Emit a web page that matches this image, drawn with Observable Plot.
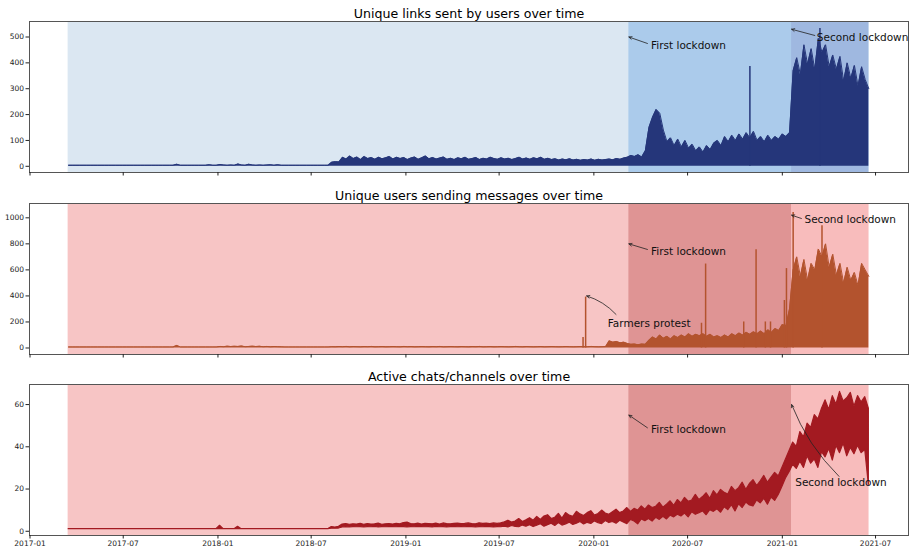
<!DOCTYPE html>
<html><head><meta charset="utf-8">
<script src="https://cdn.jsdelivr.net/npm/d3@7"></script>
<script src="https://cdn.jsdelivr.net/npm/@observablehq/plot@0.6"></script>
<style>body{margin:0;background:#fff} #chart svg{display:block}</style>
</head><body><div id="chart"></div>
<script>
// ---------- data ----------
const weekStart = "2017-03-17";   // first weekly sample, one value every 7 days
const dataStart = "2017-03-16";
const dataEnd = "2021-06-18";
const firstLockdown = "2020-03-09";
const secondLockdown = "2021-01-19";
const xTickLabels = ["2017-01","2017-07","2018-01","2018-07","2019-01","2019-07","2020-01","2020-07","2021-01","2021-07"];

const titles = ["Unique links sent by users over time", "Unique users sending messages over time", "Active chats/channels over time"];

const linksWeekly = [
 4,4,4,4,4,4,4,4,4,4,
 4,4,4,4,4,4,4,4,4,4,
 4,4,4,4,4,4,4,4,4,4,
 8,4,4,4,4,4,4,4,4,6,
 4,4,7,5,4,5,4,9,5,4,
 8,5,4,5,4,5,6,4,6,4,
 4,4,4,4,4,4,4,4,4,4,
 4,4,4,16,18,17,35,28,40,30,
 36,26,38,30,34,27,35,29,33,38,
 28,35,30,34,26,32,36,27,33,40,
 29,34,28,32,36,27,31,26,33,29,
 35,27,30,34,26,31,28,35,30,27,
 33,28,31,26,30,35,28,32,27,33,
 29,35,27,31,26,29,24,28,25,29,
 24,27,23,26,24,28,23,27,24,26,
 28,25,30,27,32,35,42,38,45,36,
 60,150,190,220,205,140,95,110,80,105,
 75,100,70,85,60,75,55,80,65,90,
 100,80,115,95,120,100,125,105,130,110,
 135,100,115,95,120,100,115,105,125,115,
 130,370,420,355,470,395,455,375,495,440,
 470,385,430,375,425,330,400,340,390,310,
 385,335,300];
const linksSpikeDates = ["2020-10-30", "2021-03-15"];
const linksSpikeValues = [386, 533];

const usersWeekly = [
 8,8,8,8,8,8,8,8,8,8,
 8,8,8,8,8,8,8,8,8,8,
 8,8,8,8,8,8,8,8,8,8,
 20,8,8,8,8,8,8,8,8,8,
 8,8,12,10,14,11,13,12,15,10,
 12,14,11,13,10,12,9,11,10,9,
 8,8,8,8,8,8,8,8,8,8,
 8,8,8,10,9,11,10,12,9,11,
 10,9,11,10,12,9,10,11,9,10,
 11,10,9,12,10,11,9,10,11,10,
 9,11,10,12,9,10,11,10,9,11,
 10,9,11,10,12,9,10,11,9,10,
 11,10,9,10,12,10,9,11,10,9,
 10,11,9,10,11,10,9,10,11,10,
 9,10,11,10,10,12,10,9,10,11,
 55,45,50,40,45,35,28,30,25,30,
 28,60,85,70,100,75,90,70,95,80,
 100,85,110,90,105,95,110,90,105,85,
 95,80,100,85,110,95,115,100,120,105,
 125,110,130,110,140,120,150,135,180,170,
 300,600,700,550,680,520,650,600,760,700,
 800,620,720,560,650,500,620,520,580,480,
 650,600,550];
const usersSpikeDates = ["2019-12-11","2019-12-16","2020-07-28","2020-08-05","2020-10-18","2020-11-11","2020-11-29","2020-12-09","2021-01-05","2021-01-09","2021-01-22","2021-03-19"];
const usersSpikeValues = [80, 391, 190, 645, 200, 755, 200, 200, 365, 610, 1040, 940];

const chatsWeeklyHigh = [
 1,1,1,1,1,1,1,1,1,1,
 1,1,1,1,1,1,1,1,1,1,
 1,1,1,1,1,1,1,1,1,1,
 1,1,1,1,1,1,1,1,1,1,
 1,1,2.6,1,1,1,1,2.1,1,1,
 1,1,1,1,1,1,1,1,1,1,
 1,1,1,1,1,1,1,1,1,1,
 1,1,1,2,1.8,2.1,3.2,3.4,3.1,3.3,
 3.2,3.5,3.1,3.4,3.2,3.3,3.6,3.1,3.3,3.4,
 3.2,3.5,3.3,3.9,4.1,3.4,3.3,3.6,3.2,3.5,
 3.4,3.3,3.6,3.2,3.7,3.4,3.3,3.5,3.6,3.4,
 3.5,3.7,3.4,3.3,3.8,3.5,3.6,3.4,3.7,3.5,
 3.8,4.2,5.0,4.1,4.6,5.8,4.4,5.2,6.2,5.0,
 6.8,5.4,7.0,7.6,5.8,6.4,8.2,6.0,8.6,7.4,
 6.8,9.2,8.0,7.2,8.6,9.5,7.4,8.2,9.8,8.4,
 7.8,9.0,10.2,8.6,9.4,11.0,9.2,10.6,9.8,11.8,
 10.2,12.2,11.0,11.6,13.4,11.2,12.6,14.2,12.0,14.8,
 13.2,15.8,14.0,14.6,17.2,14.8,16.2,18.0,15.4,19.0,
 17.0,19.6,18.2,17.4,21.0,19.0,20.4,23.0,19.6,22.4,
 24.2,21.4,23.6,26.2,23.0,25.4,27.6,26.0,30.0,34.0,
 38.0,42.0,40.0,47.0,44.5,51.0,49.0,55.0,53.0,58.0,
 62.0,57.5,64.0,60.0,66.0,61.5,63.0,65.5,59.0,64.0,
 61.0,63.5,58.0];
const chatsWeeklyLow = [
 1,1,1,1,1,1,1,1,1,1,
 1,1,1,1,1,1,1,1,1,1,
 1,1,1,1,1,1,1,1,1,1,
 1,1,1,1,1,1,1,1,1,1,
 1,1,1,1,1,1,1,1,1,1,
 1,1,1,1,1,1,1,1,1,1,
 1,1,1,1,1,1,1,1,1,1,
 1,1,1,1.2,1.2,1.3,1.8,2.0,1.8,2.0,
 1.9,2.0,1.8,2.0,1.9,2.1,1.8,2.0,1.9,2.0,
 2.0,1.9,2.1,2.0,1.8,2.0,1.9,2.1,2.0,1.9,
 2.0,1.8,2.1,1.9,2.0,1.8,2.0,2.1,1.9,2.0,
 1.9,2.1,2.0,1.8,2.0,1.9,2.1,2.0,1.8,2.0,
 1.9,2.2,1.8,2.5,2.1,1.9,2.7,2.2,2.9,2.0,
 2.6,3.3,2.2,2.9,3.6,2.5,3.9,2.7,3.2,4.1,
 3.0,3.6,4.4,3.2,4.0,3.5,4.7,3.8,3.4,4.9,
 3.9,4.4,3.6,5.0,4.2,3.4,5.4,4.6,3.3,5.6,
 4.8,5.8,4.6,6.4,5.4,6.9,5.6,7.4,6.6,7.8,
 7.0,8.4,6.6,9.0,7.8,8.6,9.4,7.6,10.0,9.2,
 10.4,8.8,11.4,10.0,12.4,9.4,12.8,11.0,13.6,12.2,
 11.8,14.6,13.2,15.4,12.6,16.0,14.4,17.2,21.0,25.0,
 28.0,31.5,29.5,33.0,30.0,35.5,32.0,34.0,30.0,37.5,
 35.0,39.0,33.5,40.5,37.0,41.5,35.5,39.5,36.5,40.5,
 37.0,38.5,22.0];

// annotations: [label, tipDate, tipValue, tailDate, tailValue, textDate, textValue, bend]
const linksNotes = [
 ["First lockdown", "2020-03-09", 500, "2020-04-14", 475, "2020-04-21", 465, 0],
 ["Second lockdown", "2021-01-19", 530, "2021-03-05", 506, "2021-03-09", 498, 0]];
const usersNotes = [
 ["First lockdown", "2020-03-09", 800, "2020-04-14", 757, "2020-04-21", 741, 0],
 ["Second lockdown", "2021-01-19", 1020, "2021-02-07", 995, "2021-02-13", 987, 0],
 ["Farmers protest", "2019-12-18", 400, "2020-02-13", 258, "2020-01-28", 190, -15]];
const chatsNotes = [
 ["First lockdown", "2020-03-09", 55, "2020-04-14", 49, "2020-04-21", 48, 0],
 ["Second lockdown", "2021-01-19", 60, "2021-04-21", 26, "2021-01-26", 23, 12]];

// ---------- build ----------
const D = s => new Date(s);
const weekDates = linksWeekly.map((_, i) => d3.utcDay.offset(D(weekStart), 7 * i));
const xTicks = xTickLabels.map(s => D(s + "-01"));
const xDomain = [D("2016-12-31"), D("2021-09-03")];
const FONT = "DejaVu Sans";

function notesMarks(notes) {
  const rows = notes.map(n => ({label: n[0], x2: D(n[1]), y2: n[2], x1: D(n[3]), y1: n[4], tx: D(n[5]), ty: n[6], bend: n[7]}));
  const out = [];
  for (const r of rows) {
    out.push(Plot.arrow([r], {x1: "x1", y1: "y1", x2: "x2", y2: "y2", bend: r.bend, stroke: "#222", strokeWidth: 0.8, headLength: 6, headAngle: 50}));
  }
  out.push(Plot.text(rows, {x: "tx", y: "ty", text: "label", textAnchor: "start", lineAnchor: "middle", fontSize: 10.5, fill: "#111"}));
  return out;
}

function spanMarks(spans, yDomain) {
  return spans.map(s => Plot.rect([s], {x1: d => D(s[0]), x2: d => D(s[1]), y1: yDomain[0], y2: yDomain[1], fill: s[2]}));
}

function panel(o) {
  return Plot.plot({
    width: 909, height: o.height,
    marginLeft: 29, marginRight: 1, marginTop: o.marginTop, marginBottom: o.marginBottom,
    style: {fontFamily: FONT, fontSize: "7.5px", color: "#222", background: "white"},
    x: {type: "utc", domain: xDomain, label: null},
    y: {domain: o.yDomain, label: null},
    marks: [
      ...spanMarks(o.spans, o.yDomain),
      ...o.dataMarks,
      Plot.frame({stroke: "#555", strokeWidth: 1}),
      Plot.axisX(xTicks, {tickSize: 3.5, tickPadding: 1.5, label: null, tickFormat: o.showX ? d3.utcFormat("%Y-%m") : () => ""}),
      Plot.axisY(o.yTicks, {tickSize: 3.5, tickPadding: 2, label: null, tickFormat: d3.format("d")}),
      ...notesMarks(o.notes),
      Plot.text([o.title], {frameAnchor: "top", lineAnchor: "middle", dy: -8, fontSize: 12.6, fill: "#000", text: d => d})
    ]
  });
}

const linksRows = weekDates.map((d, i) => ({date: d, value: linksWeekly[i]}));
const linksSpikes = linksSpikeDates.map((s, i) => ({date: D(s), value: linksSpikeValues[i]}));
const usersRows = weekDates.map((d, i) => ({date: d, value: usersWeekly[i]}));
const usersSpikes = usersSpikeDates.map((s, i) => ({date: D(s), value: usersSpikeValues[i]}));
const chatsRows = weekDates.map((d, i) => ({date: d, lo: chatsWeeklyLow[i], hi: chatsWeeklyHigh[i]}));

const blue = "#25367a", orange = "#b3532e", red = "#a31a21";

const p1 = panel({
  title: titles[0], height: 183, marginTop: 21, marginBottom: 11,
  yDomain: [-24, 560], yTicks: [0, 100, 200, 300, 400, 500], showX: false,
  spans: [[dataStart, dataEnd, "#dbe7f2"], [firstLockdown, dataEnd, "#abcbeb"], [secondLockdown, dataEnd, "#9fb8e0"]],
  dataMarks: [
    Plot.areaY(linksRows, {x: "date", y: "value", fill: blue}),
    Plot.lineY(linksRows, {x: "date", y: "value", stroke: blue, strokeWidth: 1}),
    Plot.ruleX(linksSpikes, {x: "date", y1: 0, y2: "value", stroke: blue, strokeWidth: 1.5})
  ],
  notes: linksNotes
});
const p2 = panel({
  title: titles[1], height: 182, marginTop: 20, marginBottom: 11,
  yDomain: [-50, 1110], yTicks: [0, 200, 400, 600, 800, 1000], showX: false,
  spans: [[dataStart, dataEnd, "#f7c5c5"], [firstLockdown, secondLockdown, "#df9494"], [secondLockdown, dataEnd, "#f8bcbc"]],
  dataMarks: [
    Plot.areaY(usersRows, {x: "date", y: "value", fill: orange}),
    Plot.lineY(usersRows, {x: "date", y: "value", stroke: orange, strokeWidth: 1}),
    Plot.ruleX(usersSpikes, {x: "date", y1: 0, y2: "value", stroke: orange, strokeWidth: 1.5})
  ],
  notes: usersNotes
});
const p3 = panel({
  title: titles[2], height: 186, marginTop: 19, marginBottom: 16,
  yDomain: [-2, 69.5], yTicks: [0, 20, 40, 60], showX: true,
  spans: [[dataStart, dataEnd, "#f7c5c5"], [firstLockdown, secondLockdown, "#df9494"], [secondLockdown, dataEnd, "#f8bcbc"]],
  dataMarks: [
    Plot.areaY(chatsRows, {x: "date", y1: "lo", y2: "hi", fill: red, stroke: red, strokeWidth: 1.2})
  ],
  notes: chatsNotes
});
const c = document.getElementById("chart");
c.append(p1, p2, p3);
</script></body></html>
